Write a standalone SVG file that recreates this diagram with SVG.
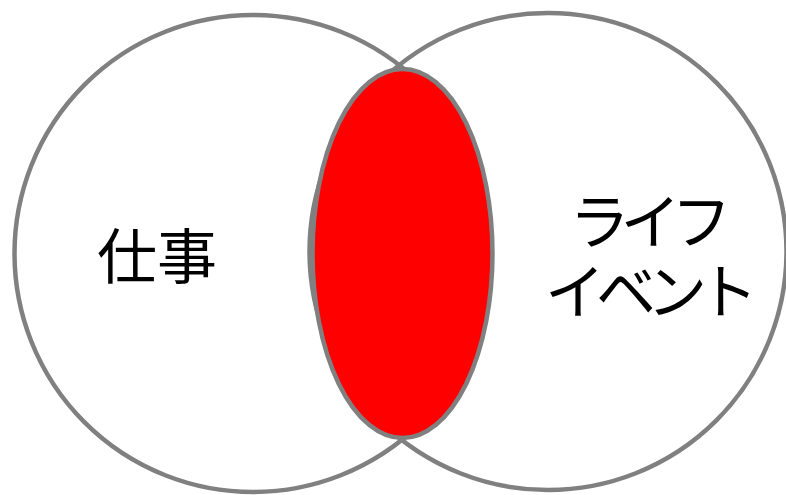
<svg xmlns="http://www.w3.org/2000/svg" width="786" height="495" viewBox="0 0 786 495">
<style>
.c{fill:#ffffff;stroke:#808080;stroke-width:4.5}
.e{fill:#ff0000;stroke:#808080;stroke-width:4.5}
.t{font-family:"Noto Sans CJK JP","Noto Sans",sans-serif;font-size:60px;fill:#000000;text-anchor:middle}
.k{letter-spacing:-9px}
</style>
<rect width="786" height="495" fill="#ffffff"/>
<g id="work">
<circle class="c" cx="253" cy="253.5" r="238.5"/>
</g>
<g id="life">
<circle class="c" cx="548" cy="251.5" r="238.5" fill-opacity="0"/>
</g>
<g id="overlap">
<ellipse class="e" cx="402.5" cy="253.5" rx="90" ry="184.5"/>
</g>
<g id="labels">
<text class="t" x="157" y="279">仕事</text>
<text class="t k"><tspan x="646" y="244">ライフ</tspan><tspan x="647" y="314">イベント</tspan></text>
</g>
<g id="connectors"/>
</svg>
